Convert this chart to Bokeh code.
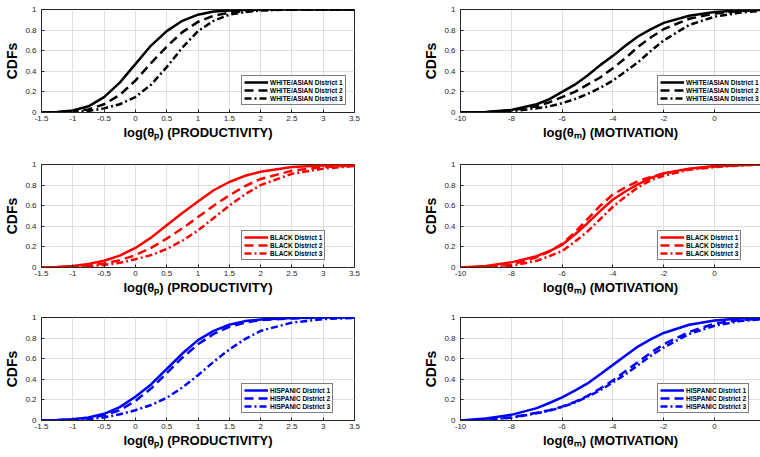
from bokeh.plotting import figure
from bokeh.models import Range1d, FixedTicker, CustomJSTickFormatter, LinearAxis
from bokeh.layouts import column, row
from bokeh.embed import file_html
from bokeh.resources import INLINE

# ---------------- data ----------------
prod_x = [-1.5, -1.25, -1, -0.75, -0.5, -0.25, 0, 0.25, 0.5, 0.75, 1, 1.25, 1.5, 1.75, 2, 2.5, 3, 3.5]
mot_x = [-10, -9, -8, -7, -6.5, -6, -5.5, -5, -4.5, -4, -3.5, -3, -2.5, -2, -1, 0, 1, 2]

prod_ticks = [-1.5, -1, -0.5, 0, 0.5, 1, 1.5, 2, 2.5, 3, 3.5]
mot_ticks = [-10, -8, -6, -4, -2, 0, 2]
cdf_ticks = [0, 0.2, 0.4, 0.6, 0.8, 1]

groups = ["WHITE/ASIAN", "BLACK", "HISPANIC"]
districts = ["District 1", "District 2", "District 3"]
colors = ["#000000", "#ff0000", "#0000ff"]
prod_label = "log(θₚ) (PRODUCTIVITY)"
mot_label = "log(θₘ) (MOTIVATION)"
y_label = "CDFs"

white_prod_d1 = [0, 0.005, 0.02, 0.06, 0.15, 0.29, 0.47, 0.65, 0.79, 0.89, 0.95, 0.98, 0.99, 0.995, 1, 1, 1, 1]
white_prod_d2 = [0, 0.003, 0.01, 0.03, 0.08, 0.17, 0.31, 0.48, 0.64, 0.78, 0.88, 0.94, 0.97, 0.985, 0.995, 1, 1, 1]
white_prod_d3 = [0, 0.002, 0.005, 0.015, 0.04, 0.08, 0.15, 0.27, 0.44, 0.63, 0.79, 0.89, 0.95, 0.975, 0.99, 1, 1, 1]
black_prod_d1 = [0, 0.005, 0.015, 0.035, 0.065, 0.115, 0.19, 0.29, 0.41, 0.53, 0.64, 0.75, 0.83, 0.89, 0.93, 0.975, 0.99, 1]
black_prod_d2 = [0, 0.003, 0.008, 0.02, 0.04, 0.07, 0.12, 0.19, 0.28, 0.38, 0.49, 0.6, 0.7, 0.79, 0.86, 0.94, 0.975, 0.99]
black_prod_d3 = [0, 0.002, 0.005, 0.012, 0.025, 0.045, 0.08, 0.12, 0.18, 0.26, 0.36, 0.48, 0.6, 0.71, 0.8, 0.91, 0.96, 0.985]
hisp_prod_d1 = [0, 0.004, 0.012, 0.03, 0.065, 0.13, 0.23, 0.35, 0.5, 0.65, 0.78, 0.87, 0.93, 0.965, 0.98, 0.995, 1, 1]
hisp_prod_d2 = [0, 0.003, 0.01, 0.025, 0.05, 0.1, 0.19, 0.31, 0.46, 0.61, 0.74, 0.84, 0.91, 0.95, 0.975, 0.99, 1, 1]
hisp_prod_d3 = [0, 0.002, 0.006, 0.012, 0.03, 0.06, 0.1, 0.15, 0.22, 0.32, 0.44, 0.57, 0.69, 0.79, 0.87, 0.95, 0.985, 0.995]

white_mot_d1 = [0, 0.005, 0.025, 0.08, 0.13, 0.2, 0.27, 0.36, 0.46, 0.55, 0.65, 0.74, 0.81, 0.87, 0.94, 0.975, 0.99, 1.0]
white_mot_d2 = [0, 0.004, 0.02, 0.06, 0.1, 0.15, 0.2, 0.27, 0.34, 0.43, 0.53, 0.64, 0.73, 0.81, 0.91, 0.96, 0.985, 1.0]
white_mot_d3 = [0, 0.003, 0.012, 0.04, 0.06, 0.09, 0.13, 0.18, 0.24, 0.31, 0.4, 0.49, 0.6, 0.7, 0.85, 0.93, 0.97, 0.99]
black_mot_d1 = [0, 0.015, 0.05, 0.11, 0.16, 0.22, 0.32, 0.43, 0.55, 0.66, 0.74, 0.81, 0.87, 0.915, 0.96, 0.985, 0.995, 1.0]
black_mot_d2 = [0, 0.006, 0.026, 0.1, 0.155, 0.23, 0.34, 0.47, 0.6, 0.71, 0.78, 0.84, 0.88, 0.91, 0.955, 0.98, 0.995, 1.0]
black_mot_d3 = [0, 0.004, 0.016, 0.065, 0.11, 0.16, 0.25, 0.35, 0.47, 0.59, 0.69, 0.78, 0.85, 0.89, 0.95, 0.975, 0.99, 1.0]
hisp_mot_d1 = [0, 0.02, 0.055, 0.12, 0.17, 0.225, 0.29, 0.36, 0.45, 0.54, 0.63, 0.72, 0.79, 0.85, 0.93, 0.97, 0.99, 1.0]
hisp_mot_d2 = [0, 0.01, 0.03, 0.075, 0.1, 0.135, 0.18, 0.24, 0.31, 0.39, 0.48, 0.57, 0.66, 0.74, 0.86, 0.94, 0.975, 0.99]
hisp_mot_d3 = [0, 0.008, 0.027, 0.07, 0.095, 0.13, 0.175, 0.23, 0.295, 0.37, 0.45, 0.54, 0.63, 0.71, 0.84, 0.92, 0.965, 0.985]

prod_series = [[white_prod_d1, white_prod_d2, white_prod_d3],
               [black_prod_d1, black_prod_d2, black_prod_d3],
               [hisp_prod_d1, hisp_prod_d2, hisp_prod_d3]]
mot_series = [[white_mot_d1, white_mot_d2, white_mot_d3],
              [black_mot_d1, black_mot_d2, black_mot_d3],
              [hisp_mot_d1, hisp_mot_d2, hisp_mot_d3]]

# ---------------- styling / layout ----------------
FONT = "Liberation Sans"
AX = "#262626"
DASHES = ["solid", "9 5", "7 3 2 3"]
LEFT_W, RIGHT_W = 420, 340
LEFT_FRAME_W, RIGHT_FRAME_W = 313, 307
LEFT_BORDER = {"prod": 41, "mot": 33}
LEGEND_X = {"prod": 200, "mot": 197}
ROW_H = [154, 154, 149]
ROW_TOP = [9, 10, 9]
FRAME_H = 103
MOT_END = 1.808


def make_panel(kind, gi):
    left = kind == "prod"
    H = ROW_H[gi]
    W = LEFT_W if left else RIGHT_W
    frame_w = LEFT_FRAME_W if left else RIGHT_FRAME_W
    bl = LEFT_BORDER[kind]
    xr = Range1d(-1.5, 3.5) if left else Range1d(-10, MOT_END)
    xticks = prod_ticks if left else mot_ticks
    xs = prod_x if left else mot_x
    ys = prod_series[gi] if left else mot_series[gi]
    p = figure(width=W, height=H, x_range=xr, y_range=Range1d(0, 1),
               output_backend="svg", toolbar_location=None,
               min_border_left=bl, min_border_right=(W - bl - frame_w),
               min_border_top=ROW_TOP[gi], min_border_bottom=H - ROW_TOP[gi] - FRAME_H,
               background_fill_color="white", border_fill_color="white")
    p.outline_line_color = AX if left else None

    fmt = CustomJSTickFormatter(code="return String(Math.round(tick*10)/10);")
    p.xaxis.ticker = FixedTicker(ticks=xticks)
    p.yaxis.ticker = FixedTicker(ticks=cdf_ticks)
    for ax in (p.xaxis[0], p.yaxis[0]):
        ax.formatter = fmt
        ax.major_tick_in = 3
        ax.major_tick_out = 0
        ax.minor_tick_line_color = None
        ax.major_tick_line_color = AX
        ax.axis_line_color = AX
        ax.major_label_text_font = FONT
        ax.major_label_text_font_size = "8px"
        ax.major_label_text_color = AX
        ax.axis_label_text_font = FONT
        ax.axis_label_text_font_size = "13px"
        ax.axis_label_text_font_style = "bold"
        ax.axis_label_text_color = "black"
    p.xaxis.major_label_standoff = 3
    p.yaxis.major_label_standoff = 5
    p.xaxis.axis_label = prod_label if left else mot_label
    p.xaxis.axis_label_standoff = 1
    p.yaxis.axis_label = y_label
    p.yaxis.axis_label_text_font_size = "14px"
    p.yaxis.axis_label_standoff = 2
    p.xgrid.grid_line_color = "#dedede"
    p.ygrid.grid_line_color = "#dedede"

    if not left:
        top = LinearAxis(ticker=FixedTicker(ticks=[]), axis_line_color=AX,
                         major_tick_line_color=None, minor_tick_line_color=None)
        p.add_layout(top, "above")

    for d in range(3):
        p.line(xs, ys[d], line_color=colors[gi], line_width=2.5, line_dash=DASHES[d],
               legend_label=f"{groups[gi]} {districts[d]}")

    lg = p.legend[0]
    lg.location = (LEGEND_X[kind], 7)
    lg.margin = 0
    lg.padding = 2
    lg.spacing = 0
    lg.glyph_width = 24
    lg.glyph_height = 8
    lg.label_height = 8
    lg.label_standoff = 2
    lg.label_text_font = FONT
    lg.label_text_font_size = "6.5px"
    lg.label_text_font_style = "bold"
    lg.label_text_color = "black"
    lg.border_line_color = "black"
    lg.border_line_width = 1
    lg.background_fill_alpha = 1
    return p


rows = []
for gi in range(3):
    rows.append(row(make_panel("prod", gi), make_panel("mot", gi)))
layout = column(*rows)

open("out.html", "w").write(file_html(layout, INLINE))
